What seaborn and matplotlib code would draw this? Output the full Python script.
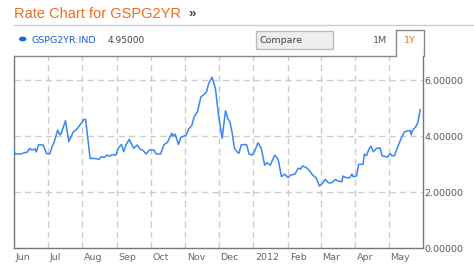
import matplotlib
matplotlib.use("Agg")
import matplotlib.pyplot as plt
import matplotlib.dates as mdates
from matplotlib.patches import Rectangle, Circle
from matplotlib.lines import Line2D
import pandas as pd
import seaborn as sns

dates = [
    "2011-06-01", "2011-06-02", "2011-06-07", "2011-06-13", "2011-06-15", "2011-06-17",
    "2011-06-20", "2011-06-21", "2011-06-23", "2011-06-27", "2011-06-30", "2011-07-03",
    "2011-07-05", "2011-07-07", "2011-07-10", "2011-07-12", "2011-07-13", "2011-07-17",
    "2011-07-20", "2011-07-24", "2011-07-27", "2011-07-31", "2011-08-02", "2011-08-04",
    "2011-08-08", "2011-08-12", "2011-08-16", "2011-08-18", "2011-08-21", "2011-08-23",
    "2011-08-25", "2011-08-28", "2011-08-31", "2011-09-02", "2011-09-05", "2011-09-07",
    "2011-09-09", "2011-09-12", "2011-09-16", "2011-09-19", "2011-09-22", "2011-09-24",
    "2011-09-27", "2011-09-30", "2011-10-04", "2011-10-06", "2011-10-10", "2011-10-13",
    "2011-10-16", "2011-10-20", "2011-10-21", "2011-10-23", "2011-10-26", "2011-10-28",
    "2011-10-31", "2011-11-02", "2011-11-04", "2011-11-07", "2011-11-09", "2011-11-12",
    "2011-11-15", "2011-11-18", "2011-11-20", "2011-11-22", "2011-11-25", "2011-11-28",
    "2011-11-29", "2011-12-01", "2011-12-04", "2011-12-07", "2011-12-09", "2011-12-11",
    "2011-12-13", "2011-12-15", "2011-12-17", "2011-12-19", "2011-12-21", "2011-12-24",
    "2011-12-26", "2011-12-28", "2011-12-31", "2012-01-02", "2012-01-05", "2012-01-08",
    "2012-01-11", "2012-01-13", "2012-01-16", "2012-01-20", "2012-01-23", "2012-01-26",
    "2012-01-29", "2012-02-01", "2012-02-03", "2012-02-07", "2012-02-10", "2012-02-12",
    "2012-02-14", "2012-02-17", "2012-02-20", "2012-02-23", "2012-02-26", "2012-02-29",
    "2012-03-03", "2012-03-05", "2012-03-08", "2012-03-11", "2012-03-14", "2012-03-17",
    "2012-03-20", "2012-03-21", "2012-03-24", "2012-03-27", "2012-03-29", "2012-03-30",
    "2012-04-02", "2012-04-04", "2012-04-08", "2012-04-09", "2012-04-11", "2012-04-13",
    "2012-04-15", "2012-04-17", "2012-04-20", "2012-04-23", "2012-04-25", "2012-04-28",
    "2012-04-30", "2012-05-02", "2012-05-04", "2012-05-06", "2012-05-09", "2012-05-12",
    "2012-05-15", "2012-05-18", "2012-05-20", "2012-05-21", "2012-05-22", "2012-05-25",
    "2012-05-27", "2012-05-29",
]
rates = [
    3.50, 3.36, 3.36, 3.43, 3.56, 3.50,
    3.54, 3.43, 3.69, 3.68, 3.38, 3.36,
    3.62, 3.80, 4.21, 4.04, 4.07, 4.55,
    3.80, 4.15, 4.24, 4.45, 4.57, 4.60,
    3.20, 3.20, 3.17, 3.26, 3.24, 3.32,
    3.28, 3.33, 3.32, 3.56, 3.70, 3.44,
    3.68, 3.88, 3.56, 3.68, 3.52, 3.50,
    3.36, 3.50, 3.50, 3.36, 3.36, 3.69,
    3.77, 4.10, 4.00, 4.07, 3.70, 3.95,
    4.00, 4.04, 4.24, 4.39, 4.69, 4.87,
    5.40, 5.49, 5.58, 5.88, 6.10, 5.70,
    5.35, 4.69, 3.92, 4.90, 4.63, 4.50,
    4.10, 3.56, 3.45, 3.38, 3.68, 3.70,
    3.68, 3.36, 3.32, 3.45, 3.76, 3.56,
    2.96, 3.05, 2.96, 3.32, 3.17, 2.55,
    2.64, 2.51, 2.60, 2.64, 2.85, 2.82,
    2.93, 2.88, 2.77, 2.60, 2.51, 2.21,
    2.33, 2.45, 2.33, 2.33, 2.45, 2.39,
    2.37, 2.57, 2.51, 2.51, 2.64, 2.55,
    2.57, 2.99, 2.99, 3.35, 3.30, 3.52,
    3.64, 3.44, 3.56, 3.58, 3.29, 3.27,
    3.25, 3.37, 3.29, 3.30, 3.62, 3.92,
    4.15, 4.19, 4.19, 4.04, 4.20, 4.33,
    4.50, 4.95,
]
month_starts = ["2011-06-01", "2011-07-01", "2011-08-01", "2011-09-01", "2011-10-01",
                "2011-11-01", "2011-12-01", "2012-01-01", "2012-02-01", "2012-03-01",
                "2012-04-01", "2012-05-01"]
month_labels = ["Jun", "Jul", "Aug", "Sep", "Oct", "Nov", "Dec", "2012", "Feb", "Mar", "Apr", "May"]
y_ticks = [0, 2, 4, 6]
y_tick_labels = ["0.00000", "2.00000", "4.00000", "6.00000"]
title = "Rate Chart for GSPG2YR"
series_name = "GSPG2YR:IND"
last_value = "4.95000"

sns.set_style("white")
plt.rcParams['font.family'] = ['DejaVu Sans']

df = pd.DataFrame({"date": pd.to_datetime(dates), "rate": rates})

W, H = 474, 266
fig = plt.figure(figsize=(W / 100, H / 100), dpi=100)
fig.patch.set_facecolor("white")

def fx(px):
    return px / W

def fy(py):
    return 1 - py / H

ax = fig.add_axes([fx(14), fy(248), fx(423) - fx(14), fy(56) - fy(248)])
ax.set_facecolor("white")

sns.lineplot(data=df, x="date", y="rate", ax=ax, color="#3a86f5", linewidth=1.1, zorder=3)

ax.set_xlim(pd.Timestamp("2011-06-01"), pd.Timestamp("2012-05-31 12:00"))
ax.set_ylim(0, 6.86)
ax.set_xlabel("")
ax.set_ylabel("")

grid_kw = dict(color="#cccccc", linewidth=1.0, linestyle=(0, (4.5, 3)), zorder=1)
for m in month_starts[1:]:
    ax.axvline(pd.Timestamp(m), **grid_kw)
for yv in y_ticks[1:]:
    ax.axhline(yv, **grid_kw)

ax.set_xticks([])
ax.yaxis.tick_right()
ax.set_yticks(y_ticks)
ax.set_yticklabels(y_tick_labels)
ax.tick_params(axis="y", length=0, pad=1, labelsize=6.8, labelcolor="#555555")

for m, lab in zip(month_starts, month_labels):
    ax.annotate(lab, xy=(pd.Timestamp(m), 0), xycoords=("data", "axes fraction"),
                xytext=(1.5, -9), textcoords="offset pixels", ha="left", va="center",
                fontsize=6.8, color="#666666")

ax.spines["top"].set_visible(False)
for side in ["left", "bottom", "right"]:
    ax.spines[side].set_color("#777777")
    ax.spines[side].set_linewidth(1.0)

# top border of plot area (stops at the tab)
fig.add_artist(Line2D([fx(14), fx(396)], [fy(55.5), fy(55.5)], color="#888888", lw=1.0))
# 1Y tab
fig.add_artist(Line2D([fx(396), fx(396)], [fy(55.5), fy(30)], color="#888888", lw=1.0))
fig.add_artist(Line2D([fx(396), fx(424)], [fy(30), fy(30)], color="#888888", lw=1.0))
fig.add_artist(Line2D([fx(423.5), fx(423.5)], [fy(30), fy(56)], color="#888888", lw=1.0))

# header
fig.text(fx(14), fy(13.5), title, fontsize=10.5, color="#f26a1b", ha="left", va="center",
         family=["Liberation Sans", "DejaVu Sans"])
fig.text(fx(188), fy(14), "\u00bb", fontsize=9.5, color="#444444", ha="left", va="center",
         fontweight="bold", family=["Liberation Sans", "DejaVu Sans"])
fig.add_artist(Line2D([fx(14), fx(474)], [fy(24.5), fy(24.5)], color="#cccccc", lw=1.0))

# legend row
fig.add_artist(Circle((fx(22.7), fy(39)), radius=3 / W, color="#1565e0",
                      transform=fig.transFigure))
fig.text(fx(32), fy(40.5), series_name, fontsize=6.8, color="#1a5fd8", ha="left", va="center")
fig.text(fx(108), fy(40.5), last_value, fontsize=6.5, color="#444444", ha="left", va="center")

fig.add_artist(Rectangle((fx(256), fy(49)), fx(333) - fx(256), fy(31) - fy(49),
                         transform=fig.transFigure, facecolor="#eeeeee",
                         edgecolor="#bbbbbb", lw=1.0))
fig.text(fx(259), fy(40.5), "Compare", fontsize=6.8, color="#444444", ha="left", va="center")
fig.text(fx(373), fy(40.5), "1M", fontsize=6.8, color="#555555", ha="left", va="center")
fig.text(fx(404), fy(40.5), "1Y", fontsize=6.8, color="#f26a1b", ha="left", va="center")

fig.savefig("out.png", dpi=100, facecolor="white")
